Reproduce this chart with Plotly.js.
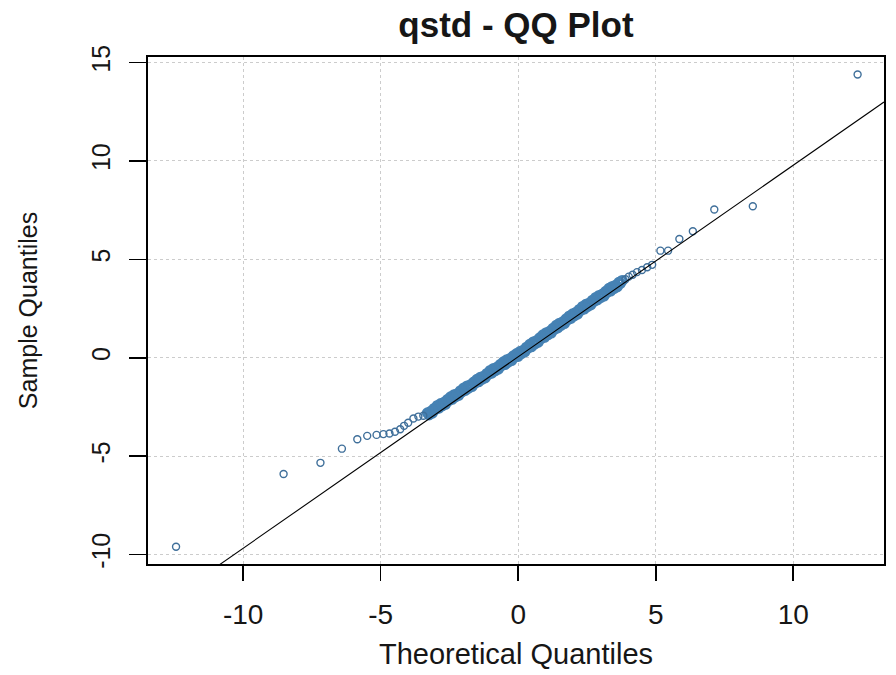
<!DOCTYPE html>
<html>
<head>
<meta charset="utf-8">
<script src="https://cdn.plot.ly/plotly-3.0.1.min.js"></script>
<style>
  html, body { margin: 0; padding: 0; background: #ffffff; }
  #chart { width: 896px; height: 675px; }
</style>
</head>
<body>
<div id="chart"></div>
<script>
// ---- Data ----
// Sparse lower tail (theoretical, sample)
const lowerTailX = [-12.44, -8.53, -7.19, -6.41, -5.85, -5.49, -5.15, -4.90, -4.68, -4.48, -4.29, -4.15, -4.00, -3.81, -3.63, -3.45];
const lowerTailY = [-9.60, -5.91, -5.34, -4.62, -4.14, -3.97, -3.92, -3.88, -3.85, -3.76, -3.63, -3.46, -3.30, -3.09, -2.99, -2.95];

// Dense central body
const bodyX = [-3.30, -3.24, -3.18, -3.12, -3.06, -3.00, -2.94, -2.88, -2.82, -2.76, -2.70, -2.64, -2.58, -2.52, -2.46, -2.40,
  -2.34, -2.28, -2.22, -2.16, -2.10, -2.04, -1.98, -1.92, -1.86, -1.80, -1.74, -1.68, -1.62, -1.56, -1.50, -1.44,
  -1.38, -1.32, -1.26, -1.20, -1.14, -1.08, -1.02, -0.96, -0.90, -0.84, -0.78, -0.72, -0.66, -0.60, -0.54, -0.48,
  -0.42, -0.36, -0.30, -0.24, -0.18, -0.12, -0.06, 0.00, 0.06, 0.12, 0.18, 0.24, 0.30, 0.36, 0.42, 0.48,
  0.54, 0.60, 0.66, 0.72, 0.78, 0.84, 0.90, 0.96, 1.02, 1.08, 1.14, 1.20, 1.26, 1.32, 1.38, 1.44,
  1.50, 1.56, 1.62, 1.68, 1.74, 1.80, 1.86, 1.92, 1.98, 2.04, 2.10, 2.16, 2.22, 2.28, 2.34, 2.40,
  2.46, 2.52, 2.58, 2.64, 2.70, 2.76, 2.82, 2.88, 2.94, 3.00, 3.06, 3.12, 3.18, 3.24, 3.30, 3.36,
  3.42, 3.48, 3.54, 3.60, 3.66, 3.72, 3.78];
const bodyY = [-2.80, -2.90, -2.73, -2.81, -2.58, -2.62, -2.43, -2.56, -2.33, -2.44, -2.27, -2.36, -2.13, -2.18, -1.99, -2.11,
  -1.89, -1.99, -1.83, -1.91, -1.68, -1.73, -1.54, -1.66, -1.44, -1.54, -1.38, -1.46, -1.24, -1.28, -1.10, -1.22,
  -1.00, -1.10, -0.94, -1.02, -0.80, -0.84, -0.65, -0.78, -0.55, -0.66, -0.49, -0.58, -0.35, -0.40, -0.21, -0.34,
  -0.11, -0.22, -0.05, -0.14, 0.09, 0.03, 0.21, 0.07, 0.31, 0.21, 0.38, 0.30, 0.53, 0.49, 0.68, 0.56,
  0.79, 0.69, 0.86, 0.78, 1.01, 0.97, 1.16, 1.04, 1.27, 1.17, 1.34, 1.26, 1.49, 1.45, 1.64, 1.52,
  1.75, 1.65, 1.82, 1.74, 1.97, 1.93, 2.12, 2.00, 2.23, 2.13, 2.30, 2.22, 2.45, 2.41, 2.60, 2.48,
  2.71, 2.60, 2.77, 2.69, 2.92, 2.87, 3.06, 2.94, 3.16, 3.06, 3.23, 3.14, 3.37, 3.33, 3.52, 3.39,
  3.62, 3.52, 3.68, 3.60, 3.83, 3.78, 3.92];

// Sparse upper tail
const upperTailX = [3.90, 4.02, 4.16, 4.32, 4.50, 4.69, 4.87, 5.17, 5.45, 5.86, 6.35, 7.13, 8.53, 12.34];
const upperTailY = [3.99, 4.12, 4.22, 4.35, 4.46, 4.60, 4.72, 5.44, 5.44, 6.03, 6.43, 7.53, 7.70, 14.39];

// Reference (qqline) parameters
const qqSlope = 0.973;
const qqIntercept = 0.05;

// Axis tick values
const xTicks = [-10, -5, 0, 5, 10];
const yTicks = [-10, -5, 0, 5, 10, 15];
const xRange = [-13.46, 13.30];
const yRange = [-10.48, 15.28];

// ---- Build traces ----
const tailX = lowerTailX.concat(upperTailX);
const tailY = lowerTailY.concat(upperTailY);
const lineX = xRange.slice();
const lineY = lineX.map(v => qqIntercept + qqSlope * v);

const FONT = 'Liberation Sans, Arial, Helvetica, sans-serif';
const TXT = '#161616';
const PT = '#4682B4';

const traces = [
  {
    // dense body: many overlapping circles in the original read as a solid band
    x: bodyX, y: bodyY, type: 'scatter', mode: 'markers',
    marker: { symbol: 'circle-open', size: 8, color: PT, line: { width: 3.2, color: PT } },
    hoverinfo: 'x+y', showlegend: false
  },
  {
    x: tailX, y: tailY, type: 'scatter', mode: 'markers',
    marker: { symbol: 'circle-open', size: 7, color: '#3f6f9a', line: { width: 1.4, color: '#3f6f9a' } },
    hoverinfo: 'x+y', showlegend: false
  },
  {
    x: lineX, y: lineY, type: 'scatter', mode: 'lines',
    line: { color: '#000000', width: 1.1 },
    hoverinfo: 'skip', showlegend: false
  }
];

const layout = {
  width: 896, height: 675,
  paper_bgcolor: '#ffffff', plot_bgcolor: '#ffffff',
  margin: { l: 148, r: 12, t: 57, b: 111, pad: 0 },
  showlegend: false,
  title: {
    text: '<b>qstd - QQ Plot</b>',
    font: { family: FONT, size: 35, color: TXT },
    x: 0.5, xref: 'paper', xanchor: 'center',
    y: 0.964, yref: 'container', yanchor: 'middle'
  },
  xaxis: {
    range: xRange, tickvals: xTicks, ticktext: xTicks.map(String),
    showline: true, mirror: true, linecolor: '#000000', linewidth: 1.6,
    ticks: 'outside', ticklen: 15, tickwidth: 1.6, tickcolor: '#000000',
    ticklabelstandoff: 10,
    tickfont: { family: FONT, size: 28, color: TXT },
    showgrid: true, gridcolor: '#cccccc', gridwidth: 1, griddash: 'dot',
    zeroline: false, automargin: false,
    title: { text: 'Theoretical Quantiles', font: { family: FONT, size: 29, color: TXT }, standoff: 14 }
  },
  yaxis: {
    range: yRange, tickvals: yTicks, ticktext: yTicks.map(String),
    showline: true, mirror: true, linecolor: '#000000', linewidth: 1.6,
    ticks: 'outside', ticklen: 17, tickwidth: 1.6, tickcolor: '#000000',
    tickangle: -90, ticklabelstandoff: 9,
    tickfont: { family: FONT, size: 25, color: TXT },
    showgrid: true, gridcolor: '#cccccc', gridwidth: 1, griddash: 'dot',
    zeroline: false, automargin: false,
    title: { text: 'Sample Quantiles', font: { family: FONT, size: 25, color: TXT }, standoff: 42 }
  }
};

Plotly.newPlot('chart', traces, layout, { displayModeBar: false, staticPlot: true });
</script>
</body>
</html>
